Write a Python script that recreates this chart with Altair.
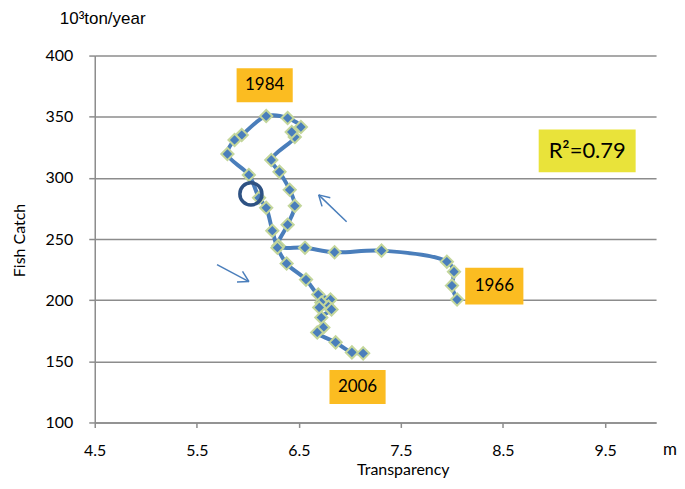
import altair as alt
import pandas as pd

# --- data (chronological path, 1966 -> 2006) ---
transparency = [8.05, 8.00, 8.02, 7.95, 7.31, 6.85, 6.56, 6.30, 6.39, 6.46,
                6.41, 6.31, 6.23, 6.46, 6.43, 6.52, 6.39, 6.18, 5.94, 5.87,
                5.80, 6.01, 6.11, 6.18, 6.24, 6.29, 6.38, 6.57, 6.69, 6.81,
                6.72, 6.79, 6.70, 6.82, 6.72, 6.74, 6.68, 6.86, 7.02, 7.13]
fish_catch = [200.5, 211.9, 223.3, 231.5, 240.5, 239.2, 242.9, 244.5, 261.7, 277.1,
              290.2, 304.9, 314.6, 333.4, 337.5, 341.6, 348.9, 350.5, 335.0, 331.0,
              319.5, 302.4, 283.7, 275.5, 256.8, 242.9, 229.9, 216.8, 204.6, 200.5,
              198.1, 194.8, 194.0, 192.4, 185.8, 177.7, 173.6, 165.5, 157.3, 156.5]

y_ticks = [100, 150, 200, 250, 300, 350, 400]
x_ticks = [4.5, 5.5, 6.5, 7.5, 8.5, 9.5]

# year label boxes (data coords)
year_labels = ["1984", "1966", "2006"]
box_x1 = [5.89, 8.13, 6.80]
box_x2 = [6.44, 8.70, 7.35]
box_y1 = [361.9, 196.5, 115.1]
box_y2 = [389.6, 226.6, 142.8]

# R^2 box
r2_text = ["R²=0.79"]
r2_x1 = [8.85]
r2_x2 = [9.80]
r2_y1 = [304.5]
r2_y2 = [339.5]

# arrows: shaft + two head strokes
arrow_x1 = [6.968, 6.694, 6.694, 5.698, 6.011, 6.011]
arrow_y1 = [264.1, 286.1, 286.1, 229.0, 215.2, 215.2]
arrow_x2 = [6.694, 6.727, 6.808, 6.011, 5.948, 5.894]
arrow_y2 = [286.1, 276.7, 283.8, 215.2, 223.5, 214.9]

# highlight circle
circle_x = [6.03]
circle_y = [286.9]

FONT = "Lato"
BLUE = "#4a7ebb"

path_df = pd.DataFrame({"t": transparency, "f": fish_catch,
                        "order": list(range(len(transparency)))})
boxes_df = pd.DataFrame({"label": year_labels, "x1": box_x1, "x2": box_x2,
                         "y1": box_y1, "y2": box_y2})
boxes_df["xc"] = (boxes_df.x1 + boxes_df.x2) / 2
boxes_df["yc"] = (boxes_df.y1 + boxes_df.y2) / 2
r2_df = pd.DataFrame({"label": r2_text, "x1": r2_x1, "x2": r2_x2, "y1": r2_y1, "y2": r2_y2})
r2_df["xc"] = (r2_df.x1 + r2_df.x2) / 2
r2_df["yc"] = (r2_df.y1 + r2_df.y2) / 2
arrows_df = pd.DataFrame({"x1": arrow_x1, "y1": arrow_y1, "x2": arrow_x2, "y2": arrow_y2})
circle_df = pd.DataFrame({"x": circle_x, "y": circle_y})

xscale = alt.Scale(domain=[4.5, 10], nice=False, zero=False)
yscale = alt.Scale(domain=[100, 400], nice=False, zero=False)

x_axis = alt.Axis(values=x_ticks, format=".1f", grid=False, title="Transparency",
                  titleX=309, titleY=47, titleBaseline="middle", titleFontWeight="normal",
                  titleFontSize=16, titleFont=FONT, titleColor="#000",
                  tickSize=5, labelPadding=15, domainColor="#8c8c8c", tickColor="#8c8c8c",
                  domainWidth=1.5, tickWidth=1.5, labelFontSize=16, labelFont=FONT,
                  labelColor="#000")
y_axis = alt.Axis(values=y_ticks, grid=True, gridColor="#8c8c8c", gridWidth=1.5,
                  title="Fish Catch", titleX=-75, titleY=185, titleAngle=-90,
                  titleAlign="center", titleBaseline="middle", titleFontWeight="normal",
                  titleFontSize=16, titleFont=FONT, titleColor="#000",
                  tickSize=6, labelPadding=16, domainColor="#8c8c8c", tickColor="#8c8c8c",
                  domainWidth=1.5, tickWidth=1.5, labelFontSize=16, labelFont=FONT,
                  labelColor="#000")

base_axes = alt.Chart(path_df).mark_point(opacity=0).encode(
    x=alt.X("t:Q", scale=xscale, axis=x_axis),
    y=alt.Y("f:Q", scale=yscale, axis=y_axis),
)

line = alt.Chart(path_df).mark_line(interpolate="catmull-rom", color=BLUE,
                                    strokeWidth=4).encode(
    x=alt.X("t:Q", scale=xscale), y=alt.Y("f:Q", scale=yscale), order="order:Q")

pts = alt.Chart(path_df).mark_point(shape="diamond", filled=True, fill=BLUE,
                                    stroke="#c3d69b", strokeWidth=2, size=150,
                                    opacity=1).encode(
    x=alt.X("t:Q", scale=xscale), y=alt.Y("f:Q", scale=yscale))

circle = alt.Chart(circle_df).mark_point(shape="circle", filled=False, color="#2e5283",
                                         strokeWidth=3.5, size=490, opacity=1).encode(
    x=alt.X("x:Q", scale=xscale), y=alt.Y("y:Q", scale=yscale))

arrows = alt.Chart(arrows_df).mark_rule(color=BLUE, strokeWidth=1.5).encode(
    x=alt.X("x1:Q", scale=xscale), y=alt.Y("y1:Q", scale=yscale),
    x2="x2:Q", y2="y2:Q")

boxes = alt.Chart(boxes_df).mark_rect(color="#fbbc21").encode(
    x=alt.X("x1:Q", scale=xscale), x2="x2:Q",
    y=alt.Y("y1:Q", scale=yscale), y2="y2:Q")
box_text = alt.Chart(boxes_df).mark_text(font=FONT, fontSize=17, color="#000").encode(
    x=alt.X("xc:Q", scale=xscale), y=alt.Y("yc:Q", scale=yscale), text="label:N")

r2_box = alt.Chart(r2_df).mark_rect(color="#e9e33a").encode(
    x=alt.X("x1:Q", scale=xscale), x2="x2:Q",
    y=alt.Y("y1:Q", scale=yscale), y2="y2:Q")
r2_label = alt.Chart(r2_df).mark_text(font=FONT, fontSize=22, color="#000").encode(
    x=alt.X("xc:Q", scale=xscale), y=alt.Y("yc:Q", scale=yscale), text="label:N")

unit_top = alt.Chart(pd.DataFrame({"label": ["10³ton/year"]})).mark_text(
    font="Liberation Sans", fontSize=17, color="#000", align="left", baseline="middle").encode(
    x=alt.value(-35), y=alt.value(-37), text="label:N")
unit_m = alt.Chart(pd.DataFrame({"label": ["m"]})).mark_text(
    font=FONT, fontSize=17, color="#000", align="center", baseline="middle").encode(
    x=alt.value(577), y=alt.value(396), text="label:N")

chart = alt.layer(base_axes, line, pts, circle, arrows, boxes, box_text, r2_box,
                  r2_label, unit_top, unit_m).properties(
    width=563, height=368,
    autosize=alt.AutoSizeParams(type="none"),
    padding={"left": 87, "top": 47, "right": 21, "bottom": 58},
).configure_view(stroke=None).configure_axis(labelFlush=False)

chart.save("out.html", embed_options={"renderer": "svg", "actions": False})
